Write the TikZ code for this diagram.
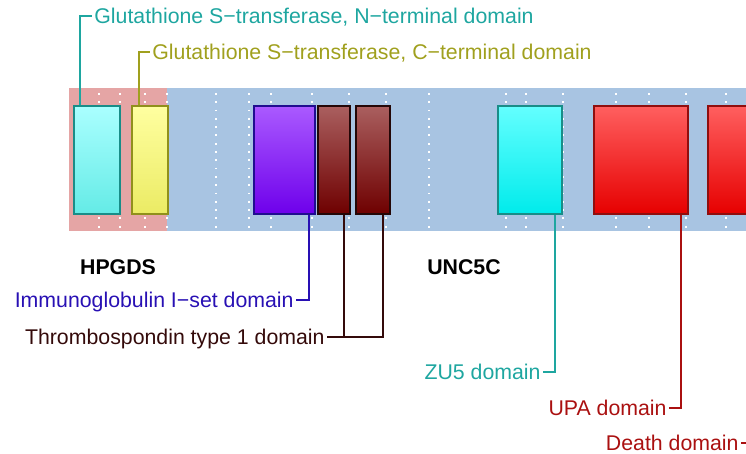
\documentclass[tikz,border=0pt]{standalone}
\usepackage{fontspec}
\setmainfont{Liberation Sans}
\usetikzlibrary{positioning}
\definecolor{gstteal}{RGB}{30,166,160}
\definecolor{gstolive}{RGB}{160,160,30}
\definecolor{igblue}{RGB}{40,16,180}
\definecolor{tspbrown}{RGB}{52,10,10}
\definecolor{upared}{RGB}{170,16,16}
\definecolor{hpgdspink}{RGB}{229,165,165}
\definecolor{unc5cblue}{RGB}{168,196,226}

\begin{document}
\begin{tikzpicture}[x=0.5pt, y=-0.5pt,
  dom/.style={draw, line width=0.9pt, inner sep=0pt, minimum height=54pt, anchor=north west},
  lab/.style={font=\fontsize{10.65}{12}\selectfont, inner sep=1pt, text height=7.6pt, text depth=0pt},
  gene/.style={lab, font=\fontsize{10.65}{12}\selectfont\bfseries},
  link/.style={line width=0.95pt},
  grid/.style={white, line width=0.9pt, dash pattern=on 0.9pt off 3.25pt}]
  \useasboundingbox (0,0) rectangle (746,454);
  \clip (0,0) rectangle (746,454);

  % Protein bands
  \fill[hpgdspink] (69,88) rectangle (167,231);
  \fill[unc5cblue] (167,88) rectangle (760,231);
  \foreach \gx in {99,120,145,167,216,249,271,312,349,386,429,506,526,563,616,649,686,726}
    \draw[grid] (\gx,93) -- (\gx,231);

  % HPGDS domains
  \node[dom, draw=gstteal!85!black, top color={rgb,255:red,170;green,255;blue,255}, bottom color={rgb,255:red,100;green,235;blue,230}, minimum width=23pt] (gstn) at (73,105) {};
  \node[dom, draw=gstolive!90!black, top color={rgb,255:red,255;green,255;blue,160}, bottom color={rgb,255:red,235;green,235;blue,100}, minimum width=18pt] (gstc) at (131,105) {};

  % UNC5C domains
  \node[dom, draw=igblue!80!black, top color={rgb,255:red,170;green,90;blue,255}, bottom color={rgb,255:red,110;green,0;blue,235}, minimum width=30.5pt] (ig) at (253,105) {};
  \node[dom, draw=tspbrown!70!black, top color={rgb,255:red,170;green,95;blue,95}, bottom color={rgb,255:red,110;green,0;blue,0}, minimum width=16pt] (tspa) at (317,105) {};
  \node[dom, draw=tspbrown!70!black, top color={rgb,255:red,170;green,95;blue,95}, bottom color={rgb,255:red,110;green,0;blue,0}, minimum width=17pt, right=2pt of tspa.north east, anchor=north west] (tspb) {};
  \node[dom, draw=gstteal!85!black, top color={rgb,255:red,100;green,255;blue,255}, bottom color={rgb,255:red,0;green,235;blue,235}, minimum width=32pt] (zu) at (497,105) {};
  \node[dom, draw=upared!85!black, top color={rgb,255:red,255;green,95;blue,95}, bottom color={rgb,255:red,230;green,0;blue,0}, minimum width=47pt] (upa) at (593,105) {};
  \node[dom, draw=upared!85!black, top color={rgb,255:red,255;green,95;blue,95}, bottom color={rgb,255:red,230;green,0;blue,0}, minimum width=47pt] (dd) at (707,105) {};

  % Gene names
  \node[gene] (hpgds) at (118,267) {HPGDS};
  \node[gene] (unc5c) at (464,267) {UNC5C};

  % Domain labels
  \node[lab, anchor=west, text=gstteal] (gstnlab) at (92,16) {Glutathione S−transferase, N−terminal domain};
  \node[lab, anchor=west, text=gstolive] (gstclab) at (150,52) {Glutathione S−transferase, C−terminal domain};
  \node[lab, anchor=east, text=igblue] (iglab) at (296,300) {Immunoglobulin I−set domain};
  \node[lab, anchor=east, text=tspbrown] (tsplab) at (327,337) {Thrombospondin type 1 domain};
  \node[lab, anchor=east, text=gstteal] (zulab) at (543,372) {ZU5 domain};
  \node[lab, anchor=east, text=upared] (upalab) at (669,408) {UPA domain};
  \node[lab, anchor=east, text=upared] (ddlab) at (741,443) {Death domain};

  % Connectors
  \draw[link, gstteal] (gstn.north west) ++(7,0) |- (gstnlab.west);
  \draw[link, gstolive] (gstc.north west) ++(8,0) |- (gstclab.west);
  \draw[link, igblue] (ig.south east) ++(-7,0) |- (iglab.east);
  \draw[link, tspbrown] (tspa.south east) ++(-7,0) |- (tsplab.east);
  \draw[link, tspbrown] (tspb.south east) ++(-8,0) |- (tsplab.east);
  \draw[link, gstteal] (zu.south east) ++(-8,0) |- (zulab.east);
  \draw[link, upared] (upa.south east) ++(-8,0) |- (upalab.east);
  \draw[link, upared] (dd.south east) ++(-8,0) |- (ddlab.east);
\end{tikzpicture}
\end{document}
